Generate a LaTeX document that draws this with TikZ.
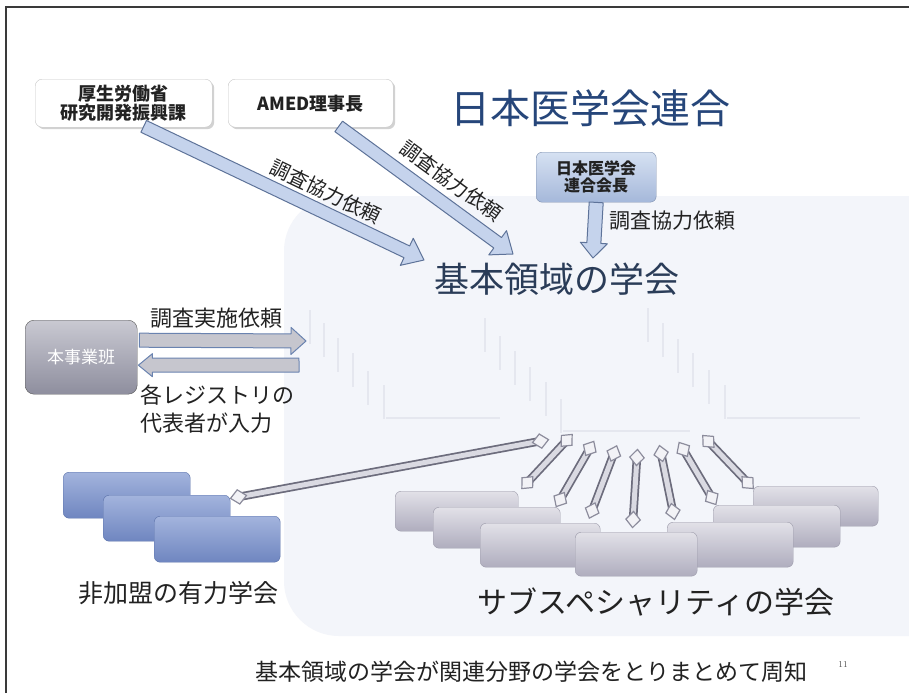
\documentclass[tikz,border=0pt]{standalone}
\usepackage{fontspec}
\newfontfamily\jp{Noto Sans CJK JP}
\usetikzlibrary{calc,shadows,arrows.meta}
\definecolor{framec}{HTML}{3A3A3A}
\definecolor{panel}{HTML}{F3F5FA}
\definecolor{stairc}{HTML}{E5E7EF}
\definecolor{arrfill}{HTML}{C5D3EC}
\definecolor{arredge}{HTML}{5E7399}
\definecolor{harrfill}{HTML}{C6C6CE}
\definecolor{harredge}{HTML}{6A83B0}
\definecolor{titlec}{HTML}{26467A}
\definecolor{kihonc}{HTML}{2A3C58}
\definecolor{txt}{HTML}{222222}
\definecolor{blueT}{HTML}{A3B4DD}
\definecolor{blueB}{HTML}{6F86C0}
\definecolor{blueE}{HTML}{5B72AA}
\definecolor{grayT}{HTML}{E2E1E8}
\definecolor{grayB}{HTML}{AFADBE}
\definecolor{connIn}{HTML}{DADAE2}
\definecolor{connOut}{HTML}{6C6C7C}
\definecolor{diaFill}{HTML}{F2F2F6}
\definecolor{diaEdge}{HTML}{8C8C9C}
\definecolor{jigT}{HTML}{C9C9D2}
\definecolor{jigB}{HTML}{8E8E9E}
\definecolor{presT}{HTML}{D6E1F2}
\definecolor{presB}{HTML}{A5B8DA}
\newcommand\fsz[2]{\fontsize{#1}{#2}\selectfont}
\newcommand\blockarrow[6]{%
  \path[#6] let \p1=(#1), \p2=(#2),
    \n1={atan2(\y2-\y1,\x2-\x1)},
    \n2={veclen(\x2-\x1,\y2-\y1)-#5}
  in ($(\p1)+(\n1+90:#3)$)
  -- ($(\p1)+(\n1:\n2)+(\n1+90:#3)$)
  -- ($(\p1)+(\n1:\n2)+(\n1+90:#4)$)
  -- (\p2)
  -- ($(\p1)+(\n1:\n2)+(\n1-90:#4)$)
  -- ($(\p1)+(\n1:\n2)+(\n1-90:#3)$)
  -- ($(\p1)+(\n1-90:#3)$) -- cycle;}
\begin{document}
\begin{tikzpicture}[x=1pt,y=-1pt,
  topbox/.style={draw=gray!45, fill=white, rounded corners=7pt, inner sep=0pt,
    anchor=north west, align=center, text=txt,
    drop shadow={opacity=0.35, shadow xshift=2pt, shadow yshift=-2pt},
    font=\jp\fsz{18}{22}\bfseries},
  presbox/.style={draw=arredge!80, top color=presT, bottom color=presB, rounded corners=6pt,
    inner sep=0pt, anchor=north west, align=center, text=txt, font=\jp\fsz{16}{20}\bfseries},
  jigbox/.style={draw=black!65, top color=jigT, bottom color=jigB, rounded corners=9pt,
    inner sep=0pt, anchor=north west, text=white, font=\jp\fsz{17}{20}},
  bluebox/.style={draw=blueE, top color=blueT, bottom color=blueB, rounded corners=6pt,
    inner sep=0pt, anchor=north west},
  graybox/.style={draw=grayB!90!black, top color=grayT, bottom color=grayB, rounded corners=6pt,
    inner sep=0pt, anchor=north west},
  blockup/.style={fill=arrfill, draw=arredge, line width=1pt, line join=round},
  blockh/.style={fill=harrfill, draw=harredge, line width=1pt, line join=round},
  lbl/.style={font=\jp\fsz{20}{24}, text=txt, inner sep=0pt},
  stair/.style={draw=stairc, line width=2pt},
  connout/.style={draw=connOut, line width=8.5pt},
  connin/.style={draw=connIn, line width=5pt, shorten <=-8.5pt, shorten >=-8.5pt,
    {Diamond[length=18pt,width=16pt,fill=diaFill,color=diaEdge,line width=1.2pt]}-{Diamond[length=18pt,width=16pt,fill=diaFill,color=diaEdge,line width=1.2pt]}}
]
\useasboundingbox (0,0) rectangle (909,693);
\fill[white] (0,0) rectangle (909,693);
% frame
\draw[framec, line width=2pt] (6,693) -- (6,7) -- (909,7);
% background panel
\begin{scope}
  \clip (0,0) rectangle (909,693);
  \fill[panel, rounded corners=55pt] (284,196) rectangle (990,636);
\end{scope}
% faint stairs
\foreach \x/\y in {310/310,324/323,338/338,353/353,368/371,384/385,
                   485/318,500/336,515/351,530/367,546/382,561/399,
                   648/308,663/323,678/339,693/353,709/370,725/385}
  \draw[stair] (\x,\y) -- (\x,\y+34);
\draw[stair, line width=1.2pt] (386,418) -- (500,418);
\draw[stair, line width=1.2pt] (563,431) -- (690,431);
\draw[stair, line width=1.2pt] (727,418) -- (860,418);

% top boxes
\node[topbox, minimum width=177pt, minimum height=48pt] (box1) at (35,79) {厚生労働省\\[-3pt]研究開発振興課};
\node[topbox, minimum width=165pt, minimum height=48pt] (box2) at (228,79) {AMED理事長};
\node[presbox, minimum width=120pt, minimum height=50pt] (box3) at (536,152) {日本医学会\\[-3pt]連合会長};

% titles
\node[font=\jp\fsz{40}{46}, text=titlec, inner sep=0pt] (title) at (590,108) {日本医学会連合};
\node[font=\jp\fsz{35}{40}, text=kihonc, inner sep=0pt] (kihon) at (557,279) {基本領域の学会};

% slanted arrows
\coordinate (a1s) at ($(box1.south)+(20,-1)$);
\coordinate (a1e) at (424,260);
\coordinate (a2s) at ($(box2.south)+(28,-1)$);
\coordinate (a2e) at (513,254);
\coordinate (a3s) at (box3.south);
\coordinate (a3e) at (593,258);
\blockarrow{a1s}{a1e}{6.5pt}{15pt}{19pt}{blockup}
\blockarrow{a2s}{a2e}{6.5pt}{15pt}{19pt}{blockup}
\blockarrow{a3s}{a3e}{7pt}{13.5pt}{15pt}{blockup}
\path (a1s) -- (a1e) node[lbl, pos=0.62, sloped, above=10pt] (l1) {調査協力依頼};
\path (a2s) -- (a2e) node[lbl, pos=0.57, sloped, above=13pt] (l2) {調査協力依頼};
\node[lbl, anchor=west, font=\jp\fsz{21}{25}] (l3) at (609,221) {調査協力依頼};

% jigyo box and horizontal arrows
\node[jigbox, minimum width=112pt, minimum height=74pt] (jig) at (25,320) {本事業班};
\coordinate (h1s) at ($(jig.east)+(2,-17)$);
\coordinate (h1e) at (306,341);
\coordinate (h2s) at (299,365);
\coordinate (h2e) at ($(jig.east)+(1,8)$);
\blockarrow{h1s}{h1e}{7pt}{13.5pt}{15pt}{blockh}
\blockarrow{h2s}{h2e}{7pt}{11.5pt}{14pt}{blockh}
\node[lbl, font=\jp\fsz{22}{26}] (l4) at (216,318) {調査実施依頼};
\node[lbl, font=\jp\fsz{22}{28}, align=left, anchor=north west] (l5) at (140,385) {各レジストリの\\代表者が入力};

% non-member societies
\node[bluebox, minimum width=127pt, minimum height=46pt] (nb1) at (63,472) {};
\node[bluebox, minimum width=127pt, minimum height=46pt] (nb2) at (103,495) {};
\node[bluebox, minimum width=126pt, minimum height=46pt] (nb3) at (154,516) {};
\node[font=\jp\fsz{25}{30}, text=txt, inner sep=0pt] (nblab) at (178,593) {非加盟の有力学会};

% subspecialty societies
\node[graybox, minimum width=123pt, minimum height=40pt] (g1) at (395,491) {};
\node[graybox, minimum width=125pt, minimum height=40pt] (g7) at (753,486) {};
\node[graybox, minimum width=127pt, minimum height=41pt] (g2) at (433,507) {};
\node[graybox, minimum width=127pt, minimum height=42pt] (g6) at (713,505) {};
\node[graybox, minimum width=120pt, minimum height=44pt] (g3) at (480,523) {};
\node[graybox, minimum width=126pt, minimum height=45pt] (g5) at (667,522) {};
\node[graybox, minimum width=122pt, minimum height=44pt] (g4) at (575,532) {};
\node[font=\jp\fsz{30}{36}, text=txt, inner sep=0pt] (sublab) at (656,602) {サブスペシャリティの学会};

% connectors
\coordinate (t0) at (541,441);
\coordinate (tn) at (238,497);
\coordinate (t1) at (567,440);
\coordinate (t2) at (590,448);
\coordinate (t3) at (614,453);
\coordinate (t4) at (637,457);
\coordinate (t5) at (661,453);
\coordinate (t6) at (683,449);
\coordinate (t7) at (708,441);
\coordinate (b1) at (527,483);
\coordinate (b2) at (560,500);
\coordinate (b3) at (592,511);
\coordinate (b4) at (633,520);
\coordinate (b5) at (673,512);
\coordinate (b6) at (712,498);
\coordinate (b7) at (748,483);
\foreach \a/\b in {t0/tn,t1/b1,t2/b2,t3/b3,t4/b4,t5/b5,t6/b6,t7/b7}{
  \draw[connout] (\a) -- (\b);
  \draw[connin] (\a) -- (\b);
}

% bottom caption
\node[font=\jp\fsz{23}{27}, text=txt, inner sep=0pt] (caption) at (531,672) {基本領域の学会が関連分野の学会をとりまとめて周知};
\node[font=\fsz{9}{10}, text=black!70, inner sep=0pt] (pnum) at (843,664) {11};
\end{tikzpicture}
\end{document}
